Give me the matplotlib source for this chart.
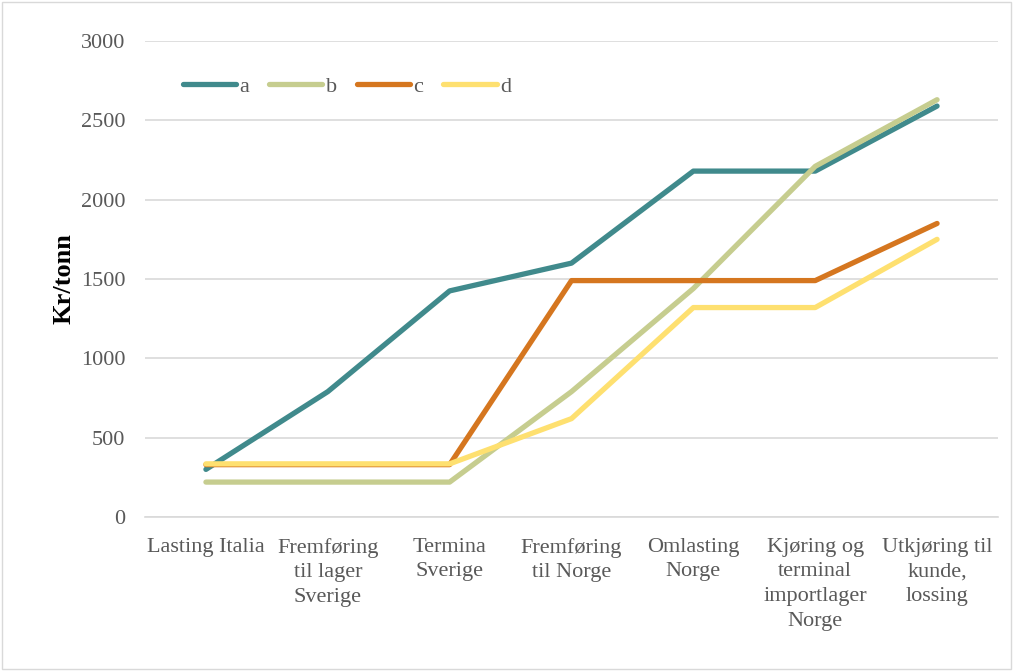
import matplotlib
matplotlib.use('Agg')
import matplotlib.pyplot as plt
from matplotlib.patches import Rectangle

categories = ['Lasting Italia', 'Fremføring\ntil lager\nSverige', 'Termina\nSverige',
              'Fremføring\ntil Norge', 'Omlasting\nNorge', 'Kjøring og\nterminal\nimportlager\nNorge',
              'Utkjøring til\nkunde,\nlossing']
a = [300, 790, 1425, 1600, 2180, 2180, 2590]
b = [220, 220, 220, 790, 1440, 2210, 2630]
c = [330, 330, 330, 1490, 1490, 1490, 1850]
d = [335, 335, 335, 620, 1320, 1320, 1750]
yticks = [0, 500, 1000, 1500, 2000, 2500, 3000]

series = [('a', a, '#408a8c'), ('b', b, '#c6cd8f'), ('c', c, '#d5761f'), ('d', d, '#fee070')]

plt.rcParams['font.family'] = ['Liberation Serif', 'DejaVu Serif']

fig = plt.figure(figsize=(10.13, 6.71), dpi=100)
ax = fig.add_axes([145 / 1013, 1 - 517 / 671, (998 - 145) / 1013, (517 - 41) / 671])

x = list(range(len(categories)))
for i, (name, vals, col) in enumerate(series):
    ax.plot(x, vals, color=col, lw=3.8, solid_capstyle='round', solid_joinstyle='round',
            label=name, zorder=3 + i)

ax.set_xlim(-0.5, len(categories) - 0.5)
ax.set_ylim(0, 3000)
ax.set_yticks(yticks)
ax.set_xticks(x)
ax.set_xticklabels(categories, fontsize=16, color='#595959', linespacing=1.4)
ax.tick_params(axis='y', labelsize=16, labelcolor='#595959', length=0, pad=14)
ax.tick_params(axis='x', length=0, pad=15)
ax.grid(axis='y', color='#d9d9d9', lw=1.2)
ax.set_axisbelow(True)
for s in ['top', 'right', 'left']:
    ax.spines[s].set_visible(False)
ax.spines['bottom'].set_color('#d9d9d9')
ax.spines['bottom'].set_linewidth(1.2)

ax.set_ylabel('Kr/tonn', fontsize=19, fontweight='bold', labelpad=4)

leg = ax.legend(loc='upper left', bbox_to_anchor=(0.044, 0.925), ncol=4, frameon=False,
                fontsize=16, handlelength=2.4, handletextpad=0.15, columnspacing=0.9,
                borderpad=0, borderaxespad=0, labelcolor='#595959')

fig.patches.append(Rectangle((0.002, 0.003), 0.996, 0.994, transform=fig.transFigure,
                             fill=False, edgecolor='#d9d9d9', lw=1.0))

fig.savefig('out.png', dpi=100)
